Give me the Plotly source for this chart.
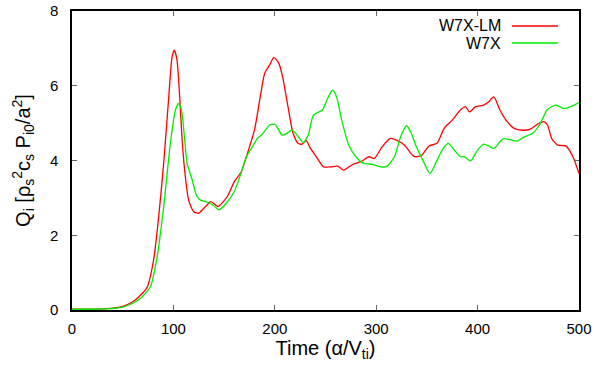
import plotly.graph_objects as go

# W7X-LM (red)
lm_t = [0, 10, 20, 30, 40, 50, 60, 67, 74, 80.5, 85.5, 90.4, 95.4, 98.7, 101, 103.6, 106.2, 108.6, 111.8,
        115, 120, 125, 130, 137, 144, 153,
        160, 167, 173, 180, 185, 190, 195, 199, 204, 208, 213, 218, 223, 227, 231, 235, 240, 248, 255,
        262, 268, 276, 285, 293, 298, 306, 314, 322, 328, 336, 339, 345, 352, 360, 367, 375, 383, 388,
        392, 398, 406, 411, 416, 422, 428, 436, 444, 452, 459, 465, 469, 473, 479, 487, 494, 500]
lm_q = [0.02, 0.02, 0.02, 0.03, 0.05, 0.1, 0.22, 0.38, 0.6, 1.34, 2.5, 3.92, 5.7, 6.77, 6.95, 6.68, 5.7,
        4.55, 3.56, 2.94, 2.63, 2.59, 2.72, 2.9, 2.77, 3.03, 3.43, 3.7, 4.19, 4.82, 5.6, 6.33, 6.56, 6.76,
        6.6, 6.2, 5.44, 4.73,
        4.46, 4.44, 4.53, 4.33, 4.14, 3.83, 3.83, 3.85, 3.74, 3.88, 3.97, 4.1, 4.05, 4.37, 4.59, 4.52,
        4.41, 4.14, 4.1, 4.14, 4.39, 4.46, 4.86, 5.08, 5.35, 5.44, 5.3, 5.44, 5.48, 5.57, 5.7, 5.35,
        5.08, 4.86, 4.81, 4.84, 4.97, 5.04, 4.95, 4.59, 4.41, 4.39, 4.1, 3.65]

# W7X (green)
w7_t = [0, 10, 20, 30, 40, 50, 60, 69, 77.3, 84, 90.4, 97, 102, 105.2, 108, 110.9, 113.5, 118.5, 122.7,
        126.6, 132, 139, 145, 152,
        160, 165, 172, 178, 183, 187, 195, 200, 203, 207, 212, 217, 223, 228, 233, 238, 247, 252, 257,
        261, 266, 273, 280, 288, 296, 304, 311, 318, 324, 330, 334, 339, 346, 353, 360, 366, 371, 377,
        383, 387, 393, 400, 406, 411, 416, 425, 433, 439, 446, 454, 461, 469, 477, 485, 492, 500]
w7_q = [0.02, 0.02, 0.02, 0.03, 0.04, 0.08, 0.18, 0.35, 0.62, 1.43, 2.76, 4.46, 5.35, 5.53, 5.35, 4.63,
        3.92, 3.48, 3.07, 2.94, 2.9, 2.81, 2.68, 2.85, 3.17, 3.52, 4.1, 4.37, 4.6, 4.68, 4.95, 4.97, 4.86,
        4.68, 4.73,
        4.82, 4.64, 4.48, 4.68, 5.21, 5.35, 5.66, 5.88, 5.7, 5.08, 4.41, 4.1, 3.92, 3.9, 3.83, 3.85,
        4.1, 4.63, 4.93, 4.77, 4.41, 4.01, 3.65, 4.01, 4.32, 4.46, 4.28, 4.1, 4.1, 3.99, 4.28, 4.44,
        4.39, 4.32, 4.58, 4.55, 4.52, 4.63, 4.72, 4.95, 5.37, 5.48, 5.39, 5.44, 5.55]

x_ticks = [0, 100, 200, 300, 400, 500]
y_ticks = [0, 2, 4, 6, 8]
series_names = ["W7X-LM", "W7X"]
series_colors = ["#ff0000", "#00ee00"]

FONT = "Liberation Sans, Arial, sans-serif"

fig = go.Figure()
fig.add_trace(go.Scatter(x=lm_t, y=lm_q, mode="lines", name=series_names[0],
                         line=dict(color=series_colors[0], width=1.3, shape="spline", smoothing=0.6)))
fig.add_trace(go.Scatter(x=w7_t, y=w7_q, mode="lines", name=series_names[1],
                         line=dict(color=series_colors[1], width=1.3, shape="spline", smoothing=0.6)))

axis_common = dict(showline=True, linecolor="black", linewidth=1.5, mirror="allticks",
                   ticks="inside", ticklen=5, tickcolor="#666666", tickwidth=1,
                   showgrid=False, zeroline=False, automargin=False,
                   tickfont=dict(family=FONT, size=15, color="black"))

fig.update_layout(
    width=594, height=365,
    margin=dict(l=72, r=15, t=11, b=55),
    plot_bgcolor="white", paper_bgcolor="white",
    showlegend=False,
    font=dict(family=FONT, color="black"),
    xaxis=dict(range=[0, 500], tickvals=x_ticks, ticklabelstandoff=4,
               title=dict(text="Time (α/V<sub>ti</sub>)", font=dict(family=FONT, size=20, color="black"), standoff=2),
               **axis_common),
    yaxis=dict(range=[0, 8], tickvals=y_ticks, ticklabelstandoff=9,
               title=dict(text="Q<sub>i</sub> [ρ<sub>s</sub><sup>2</sup>c<sub>s</sub> P<sub>i0</sub>/a<sup>2</sup>]",
                          font=dict(family=FONT, size=20, color="black"), standoff=14),
               **axis_common),
)

# manual gnuplot-style legend (text right, sample line to the right)
leg_y = [26, 43]
for i, (name, col) in enumerate(zip(series_names, series_colors)):
    yp = 1 - (leg_y[i] - 11) / 299
    fig.add_annotation(xref="paper", yref="paper", x=(503 - 72) / 507, y=yp, text=name,
                       showarrow=False, xanchor="right", yanchor="middle",
                       font=dict(family=FONT, size=16, color="black"))
    fig.add_shape(type="line", xref="paper", yref="paper",
                  x0=(512 - 72) / 507, x1=(558 - 72) / 507, y0=yp, y1=yp,
                  line=dict(color=col, width=1.3))

fig.write_html("out.html")
